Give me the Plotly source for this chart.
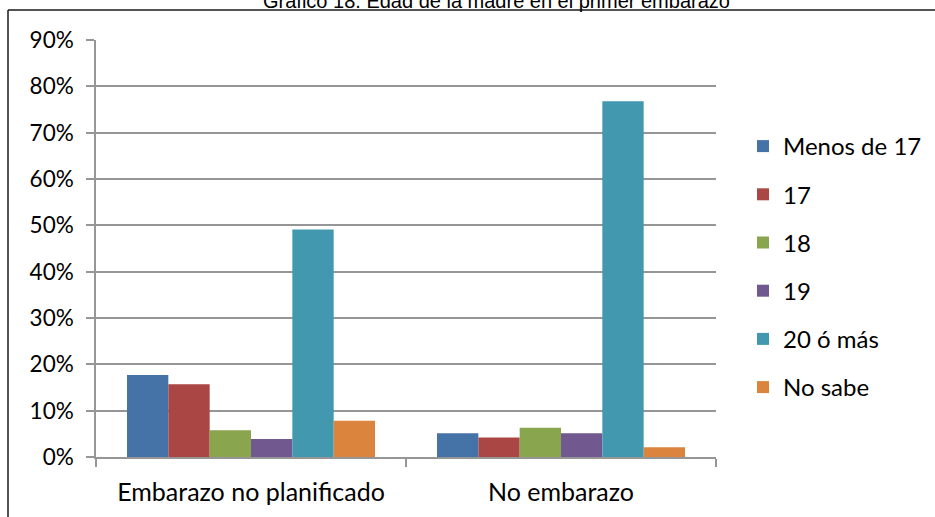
import plotly.graph_objects as go

# Categories and series
categorias = ["Embarazo no planificado", "No embarazo"]
series = ["Menos de 17", "17", "18", "19", "20 ó más", "No sabe"]
valores = {
    "Menos de 17": [0.177, 0.051],
    "17": [0.157, 0.042],
    "18": [0.058, 0.063],
    "19": [0.039, 0.051],
    "20 ó más": [0.491, 0.768],
    "No sabe": [0.078, 0.021],
}
colores = ["#4572A7", "#AA4643", "#89A54E", "#71588F", "#4198AF", "#DB843D"]
y_ticks = [0, 0.1, 0.2, 0.3, 0.4, 0.5, 0.6, 0.7, 0.8, 0.9]
titulo = "Gráfico 18. Edad de la madre en el primer embarazo"

W, H = 935, 517
L, R, T, B = 96, 219, 40, 60
pw, ph = W - L - R, H - T - B


def px_x(x):
    return (x - L) / pw


def px_y(y):
    return (H - B - y) / ph


fig = go.Figure()
for i, (nombre, color) in enumerate(zip(series, colores)):
    fig.add_trace(go.Bar(
        x=categorias,
        y=valores[nombre],
        name=nombre,
        legendgroup=nombre,
        marker=dict(color=color, line=dict(width=0)),
    ))

FAMILY = "Lato, Carlito, Calibri, sans-serif"
xtick_font = dict(family=FAMILY, size=25, color="#000000")
ytick_font = dict(family=FAMILY, size=22.5, color="#000000")
legend_font = dict(family=FAMILY, size=24, color="#000000")

fig.update_layout(
    width=W,
    height=H,
    margin=dict(l=L, r=R, t=T, b=B, autoexpand=False),
    paper_bgcolor="white",
    plot_bgcolor="white",
    barmode="group",
    bargap=0.2,
    bargroupgap=0,
    font=xtick_font,
    showlegend=True,
    legend=dict(
        x=px_x(743),
        xanchor="left",
        y=px_y(124),
        yanchor="top",
        font=legend_font,
        tracegroupgap=14,
        bgcolor="rgba(0,0,0,0)",
    ),
    xaxis=dict(
        showline=True,
        linecolor="#969696",
        linewidth=1.5,
        ticks="outside",
        ticklen=8,
        tickcolor="#969696",
        tickwidth=1.5,
        tickson="boundaries",
        showgrid=False,
        tickfont=xtick_font,
        ticklabelstandoff=12,
    ),
    yaxis=dict(
        range=[0, 0.9],
        tickvals=y_ticks,
        tickformat=".0%",
        showline=True,
        linecolor="#969696",
        linewidth=1.5,
        ticks="outside",
        ticklen=8,
        tickcolor="#969696",
        tickwidth=1.5,
        showgrid=True,
        gridcolor="#969696",
        gridwidth=1.5,
        zeroline=False,
        tickfont=ytick_font,
        ticklabelstandoff=8,
    ),
    shapes=[
        # chart frame: top and left edges
        dict(type="line", xref="paper", yref="paper",
             x0=px_x(8), x1=px_x(940), y0=px_y(10), y1=px_y(10),
             line=dict(color="#1a1a1a", width=1.5)),
        dict(type="line", xref="paper", yref="paper",
             x0=px_x(8), x1=px_x(8), y0=px_y(10), y1=px_y(530),
             line=dict(color="#1a1a1a", width=1.5)),
    ],
    annotations=[
        dict(text=titulo, xref="paper", yref="paper",
             x=px_x(496), y=px_y(1), xanchor="center", yanchor="middle",
             showarrow=False,
             font=dict(family="Liberation Sans, Arial, sans-serif", size=20, color="#000000")),
    ],
)

fig.write_html("out.html")
